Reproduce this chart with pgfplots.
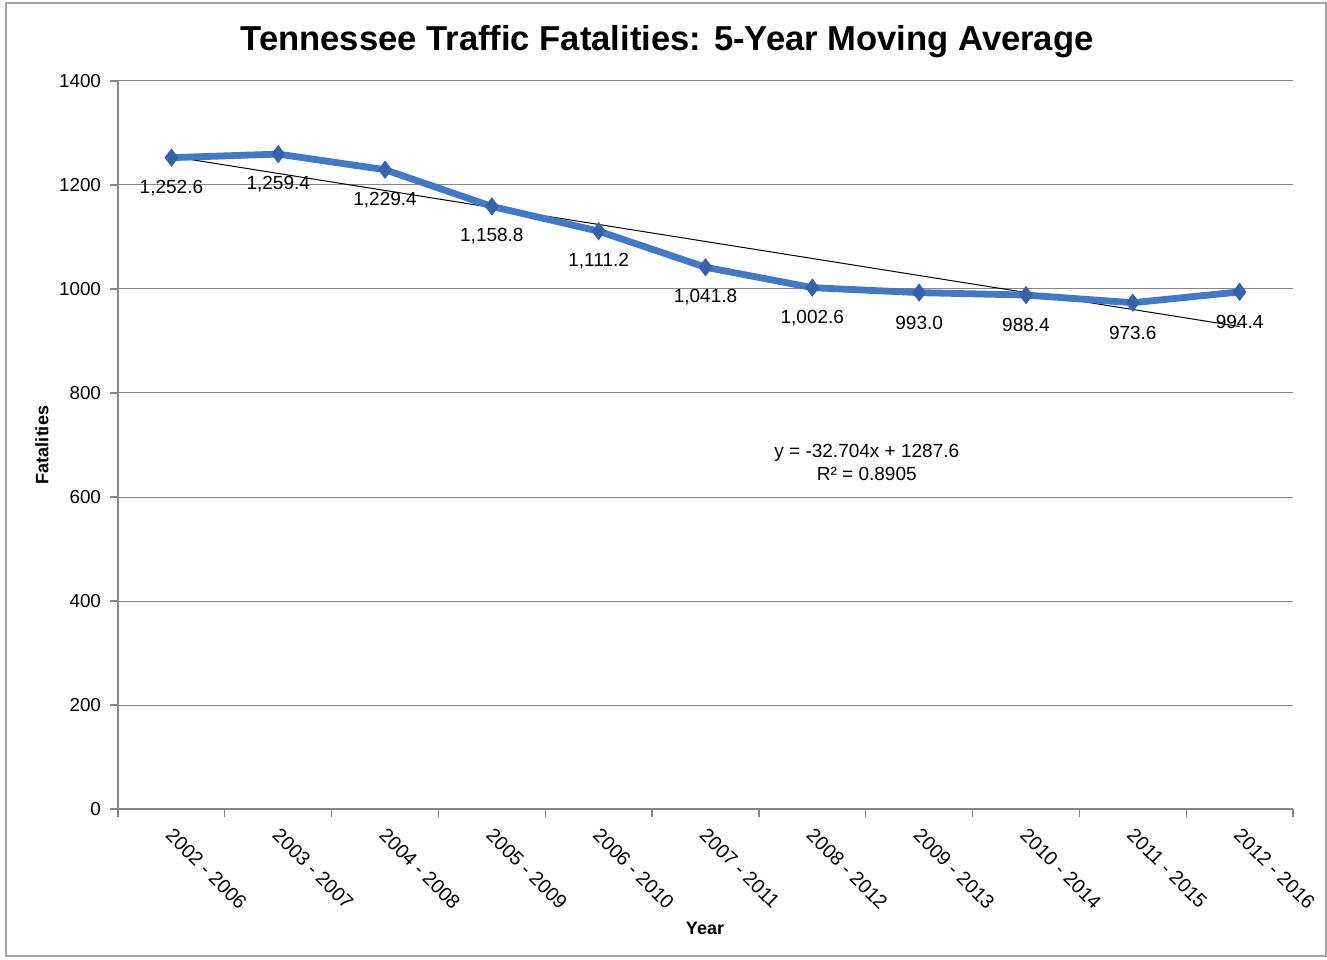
\documentclass[border=0pt]{standalone}
\usepackage{fontspec}
\setmainfont{Liberation Sans}
\usepackage{pgfplots}
\pgfplotsset{compat=1.18}
\definecolor{lineblue}{RGB}{66,121,198}
\definecolor{markblue}{RGB}{52,98,172}
\definecolor{gridgray}{RGB}{134,134,134}
\definecolor{framegray}{RGB}{165,165,165}
\begin{document}
\begin{tikzpicture}
\useasboundingbox (-59pt,-75pt) rectangle (604.5pt,404.5pt);
\fill[white] (-59pt,-75pt) rectangle (604.5pt,404.5pt);
\begin{axis}[
  at={(0pt,0pt)}, anchor=south west,
  scale only axis, width=587.5pt, height=364pt,
  xmin=-0.5, xmax=10.5, ymin=0, ymax=1400,
  axis x line*=bottom, axis y line*=left,
  axis line style={-, draw=gridgray, line width=0.6pt},
  ymajorgrids, grid style={draw=gridgray, line width=0.5pt},
  ytick={0,200,...,1400},
  xtick={0,...,10},
  xticklabels={2002 - 2006,2003 - 2007,2004 - 2008,2005 - 2009,2006 - 2010,2007 - 2011,2008 - 2012,2009 - 2013,2010 - 2014,2011 - 2015,2012 - 2016},
  minor xtick={-0.5,0.5,...,10.5},
  major x tick style={draw=none},
  minor x tick style={draw=gridgray, line width=0.6pt},
  y tick style={draw=gridgray, line width=0.6pt},
  tick align=outside, major tick length=4pt, minor tick length=4pt,
  /pgf/number format/assume math mode=true,
  /pgf/number format/1000 sep={},
  tick label style={font=\fontsize{9.4}{11}\selectfont},
  yticklabel style={xshift=-1pt},
  xticklabel style={rotate=-45, anchor=west, font=\fontsize{9.8}{11}\selectfont, xshift=1pt, yshift=-6pt},
  clip=false,
]
% trend line y = -32.704x + 1287.6 at periods 1 and 11
\addplot[black, line width=0.5pt] coordinates {(0,1254.9) (10,927.86)};
% five-year moving average
\addplot[lineblue, line width=3.4pt, mark=diamond*,
  mark options={markblue, fill=markblue, line width=0.5pt, scale=2.1},
  nodes near coords={\pgfmathprintnumber[fixed,fixed zerofill,precision=1,1000 sep={,},assume math mode=true]{\pgfplotspointmeta}},
  every node near coord/.append style={font=\fontsize{9.5}{11}\selectfont, text=black, anchor=center, yshift=-15pt, inner sep=0pt},
  point meta=y]
  coordinates {
  (0,1252.6) (1,1259.4) (2,1229.4) (3,1158.8) (4,1111.2) (5,1041.8)
  (6,1002.6) (7,993.0) (8,988.4) (9,973.6) (10,994.4)};
\node[font=\fontsize{9.5}{11.5}\selectfont, align=center] at (axis cs:6.51,667) {y = -32.704x + 1287.6\\R² = 0.8905};
\end{axis}
\node[font=\bfseries\fontsize{17.3}{20}\selectfont] at (274.5pt,383.5pt) {Tennessee Traffic Fatalities: 5-Year Moving Average};
\node[font=\bfseries\fontsize{9}{10}\selectfont, rotate=90] at (-38pt,182pt) {Fatalities};
\node[font=\bfseries\fontsize{9}{10}\selectfont] at (293.5pt,-59.5pt) {Year};
\draw[framegray, line width=0.8pt] (-56pt,-73.5pt) rectangle (604pt,403pt);
\end{tikzpicture}
\end{document}
